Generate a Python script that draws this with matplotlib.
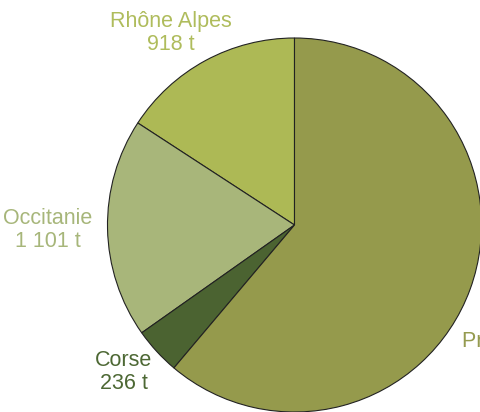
import matplotlib.pyplot as plt

plt.rcParams['font.family'] = ['Liberation Sans', 'DejaVu Sans']

regions = ['Rhône Alpes', 'Occitanie', 'Corse', "Provence Alpes Côte d'Azur"]
values = [918, 1101, 236, 3550]
value_labels = ['918 t', '1 101 t', '236 t', '3 550 t']
colors = ['#adb955', '#a8b67a', '#4b6331', '#959a4c']
text_colors = ['#afbc5c', '#a7b67a', '#4d6834', '#959b50']

fig = plt.figure(figsize=(4.81, 4.12), dpi=100)
ax = fig.add_axes([0, 0, 1, 1])

ax.pie(values, colors=colors, startangle=90, counterclock=True,
       center=(294.5, 187), radius=187, frame=True,
       wedgeprops=dict(edgecolor='#222222', linewidth=0.8))
ax.set_xlim(0, 481)
ax.set_ylim(0, 412)
ax.set_aspect('equal')
ax.axis('off')

# label anchors (pixel-ish coords, y up)
label_pos = [(171, 379, 'center'), (48, 182, 'center'), (123.5, 40, 'center'), (462, 81, 'left')]
for name, vl, c, (x, y, ha) in zip(regions, value_labels, text_colors, label_pos):
    va = 'top' if ha == 'left' else 'center'
    ax.text(x, y, name + '\n' + vl, color=c, fontsize=15.5, ha=ha, va=va,
            multialignment='center', linespacing=1.15)

fig.savefig('out.png', dpi=100)
